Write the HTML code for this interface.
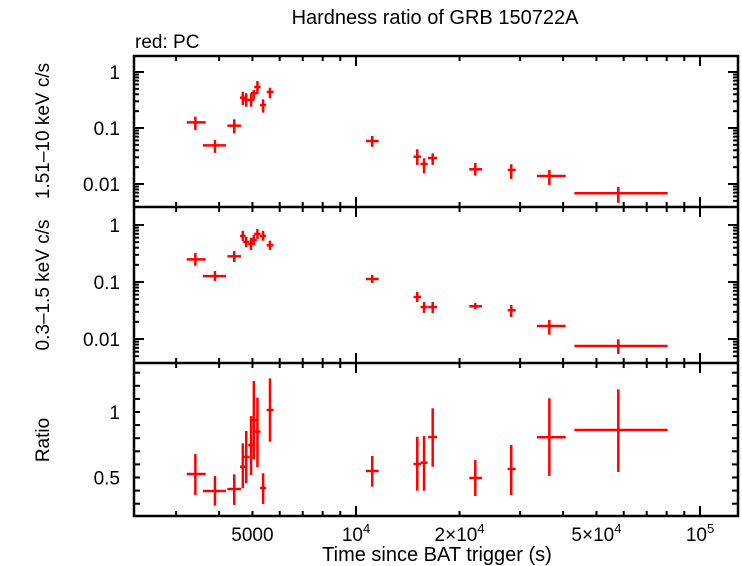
<!DOCTYPE html>
<html><head><meta charset="utf-8"><style>
body{margin:0;background:#fff}
svg{display:block;font-family:"Liberation Sans",sans-serif}
</style></head><body>
<svg id="c" width="742" height="566" xmlns="http://www.w3.org/2000/svg">
<text x="435" y="24" font-size="20" text-anchor="middle">Hardness ratio of GRB 150722A</text>
<text x="135" y="48" font-size="19">red: PC</text>
<text transform="translate(49,131) rotate(-90)" font-size="19" text-anchor="middle">1.51–10 keV c/s</text>
<text transform="translate(49,285) rotate(-90)" font-size="19" text-anchor="middle">0.3–1.5 keV c/s</text>
<text transform="translate(49,440) rotate(-90)" font-size="19" text-anchor="middle">Ratio</text>
<text x="437" y="561" font-size="20" text-anchor="middle">Time since BAT trigger (s)</text>
<g id="g"></g>
</svg>
<script>
const times=[3412,3890,4426,4688,4797,4955,5047,5170,5370,5623,11150,15070,15770,16710,22220,28270,36480,57880];
const tLo=[3221,3589,4227,4600,4700,4860,4950,5060,5260,5500,10690,14700,15400,16200,21340,27610,33590,43130];
const tHi=[3656,4188,4634,4780,4900,5060,5150,5280,5480,5760,11640,15450,16150,17200,23240,29130,40700,80540];
const hard=[0.126,0.049,0.110,0.348,0.316,0.316,0.417,0.540,0.257,0.440,0.0586,0.0307,0.0228,0.0291,0.0183,0.0178,0.0139,0.00682];
const hardLo=[0.092,0.036,0.080,0.257,0.240,0.240,0.325,0.405,0.188,0.339,0.046,0.0219,0.0155,0.0219,0.0141,0.0123,0.0096,0.0046];
const hardHi=[0.159,0.061,0.143,0.444,0.417,0.417,0.476,0.690,0.325,0.525,0.072,0.0417,0.0288,0.0353,0.0237,0.0225,0.0178,0.0089];
const soft=[0.250,0.127,0.282,0.641,0.503,0.464,0.546,0.695,0.641,0.440,0.113,0.0546,0.0364,0.0364,0.0375,0.0319,0.0169,0.00753];
const softLo=[0.193,0.104,0.224,0.52,0.41,0.365,0.445,0.57,0.53,0.365,0.096,0.0446,0.0286,0.0286,0.0336,0.0243,0.0119,0.00546];
const softHi=[0.323,0.156,0.35,0.79,0.616,0.60,0.67,0.85,0.79,0.53,0.133,0.067,0.0446,0.0446,0.043,0.0395,0.0216,0.00988];
const ratio=[0.527,0.397,0.412,0.582,0.656,0.748,0.937,0.850,0.42,1.015,0.550,0.603,0.613,0.809,0.496,0.565,0.807,0.863];
const ratioLo=[0.366,0.285,0.29,0.418,0.456,0.519,0.639,0.578,0.298,0.773,0.430,0.399,0.399,0.582,0.359,0.366,0.511,0.542];
const ratioHi=[0.679,0.511,0.524,0.761,0.855,0.969,1.237,1.109,0.532,1.257,0.664,0.811,0.817,1.028,0.634,0.748,1.105,1.173];
const xTickLabels=[[5000,"5000"],[1e4,"10<tspan dy='-8' font-size='13'>4</tspan>"],[2e4,"2×10<tspan dy='-8' font-size='13'>4</tspan>"],[5e4,"5×10<tspan dy='-8' font-size='13'>4</tspan>"],[1e5,"10<tspan dy='-8' font-size='13'>5</tspan>"]];
const logTickLabels=[[1,"1"],[0.1,"0.1"],[0.01,"0.01"]];
const ratioTickLabels=[[1,"1"],[0.5,"0.5"]];

const L=134,R=738;
const X=t=>356+344*(Math.log10(t)-4);
const Ytop=v=>128-56*(Math.log10(v)+1);
const Ymid=v=>282-57*(Math.log10(v)+1);
const Yrat=v=>412-131*(v-1);
const panels=[{t:56,b:207,Y:Ytop,log:true,v:hard,lo:hardLo,hi:hardHi,n:'hard'},
 {t:207,b:363,Y:Ymid,log:true,v:soft,lo:softLo,hi:softHi,n:'soft'},
 {t:363,b:516,Y:Yrat,log:false,v:ratio,lo:ratioLo,hi:ratioHi,n:'ratio'}];
const g=document.getElementById('g');
const NS='http://www.w3.org/2000/svg';
function ln(x1,y1,x2,y2,c,w,name){const e=document.createElementNS(NS,'line');
e.setAttribute('x1',x1);e.setAttribute('y1',y1);e.setAttribute('x2',x2);e.setAttribute('y2',y2);
e.setAttribute('stroke',c);e.setAttribute('stroke-width',w);


g.appendChild(e);return e;}
function tx(x,y,s,anchor,name){const e=document.createElementNS(NS,'text');
e.setAttribute('x',x);e.setAttribute('y',y);e.setAttribute('font-size','19');e.setAttribute('text-anchor',anchor);e.innerHTML=s;


g.appendChild(e);}
panels.forEach(p=>{
 for(let d=3;d<=5;d++)for(let m=1;m<10;m++){const t=m*Math.pow(10,d);const x=X(t);if(x<L+2||x>R-2)continue;
  const len=m===1?10:5;ln(x,p.t,x,p.t+len,'#000',2,'x-tick');ln(x,p.b,x,p.b-len,'#000',2,'x-tick');}
 if(p.log){for(let d=-3;d<=0;d++)for(let m=1;m<10;m++){const v=m*Math.pow(10,d);const y=p.Y(v);if(y<p.t+2||y>p.b-2)continue;
  const len=m===1?10:5;ln(L,y,L+len,y,'#000',2,'y-tick');ln(R,y,R-len,y,'#000',2,'y-tick');}
  logTickLabels.forEach(([v,s])=>{const y=p.Y(v);if(y>p.t&&y<p.b)tx(120,y+7,s,'end','y-tick-label');});}
 else{for(let k=2;k<=13;k++){const v=k/10;const y=p.Y(v);if(y<p.t+2||y>p.b-2)continue;
  ln(L,y,L+6,y,'#000',2,'y-tick');ln(R,y,R-6,y,'#000',2,'y-tick');}
  ratioTickLabels.forEach(([v,s])=>tx(120,p.Y(v)+7,s,'end','y-tick-label'));}
 times.forEach((t,i)=>{const y=p.Y(p.v[i]);
  ln(X(tLo[i]),y,X(tHi[i]),y,'#f00',2.5,p.n+'-xerr');
  ln(X(t),p.Y(p.lo[i]),X(t),p.Y(p.hi[i]),'#f00',2.5,p.n+'-yerr');});
});
xTickLabels.forEach(([t,s])=>tx(X(t),541,s,'middle','x-tick-label'));
const r=document.createElementNS(NS,'rect');
r.setAttribute('x',L);r.setAttribute('y',56);r.setAttribute('width',R-L);r.setAttribute('height',516-56);
r.setAttribute('fill','none');r.setAttribute('stroke','#000');r.setAttribute('stroke-width','2.5');


g.appendChild(r);
ln(L,207,R,207,'#000',2.5,'panel-divider');
ln(L,363,R,363,'#000',2.5,'panel-divider');
</script>
</body></html>
